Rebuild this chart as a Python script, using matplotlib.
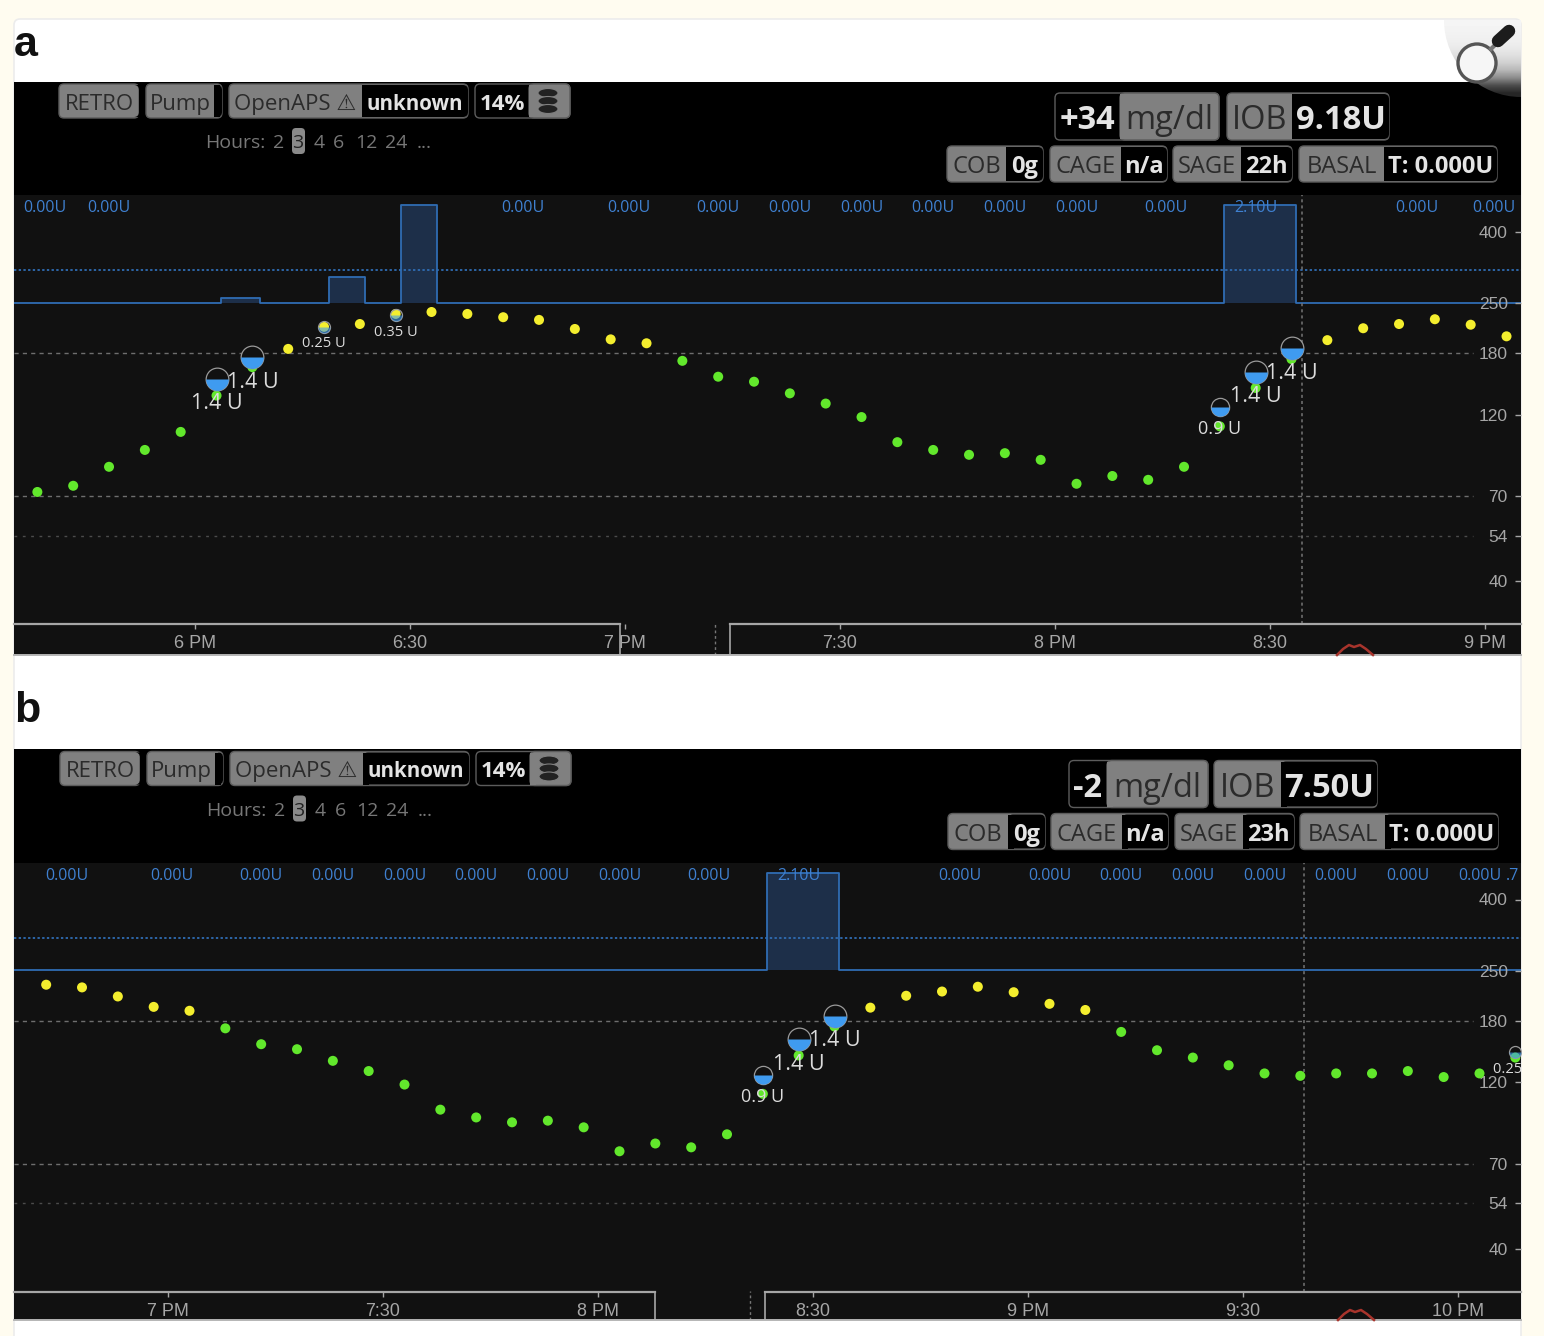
#!/usr/bin/env python3
"""Two Nightscout glucose screenshots (a, b) stacked on one white card."""

import numpy as np
import matplotlib
matplotlib.use("Agg")
import matplotlib.pyplot as plt
from matplotlib.path import Path
from matplotlib.patches import FancyBboxPatch, Rectangle, Ellipse, Wedge, Circle

plt.rcParams["font.family"] = ["Open Sans", "DejaVu Sans"]

W, H = 1544, 1336

# ── Data ─────────────────────────────────────────────────────────────────────

# minutes since midnight, one CGM reading every five minutes
glucose_time = [1058, 1063, 1068, 1073, 1078, 1083, 1088, 1093, 1098, 1103,
                1108, 1113, 1118, 1123, 1128, 1133, 1138, 1143, 1148, 1153,
                1158, 1163, 1168, 1173, 1178, 1183, 1188, 1193, 1198, 1203,
                1208, 1213, 1218, 1223, 1228, 1233, 1238, 1243, 1248, 1253,
                1258, 1263, 1268, 1273, 1278, 1283, 1288, 1293, 1298, 1303,
                1308, 1313, 1318, 1323, 1328]
glucose_mgdl = [72, 75, 85, 95, 107, 136, 164, 185, 214, 218,
                233, 236, 233, 228, 224, 211, 197, 192, 171, 154,
                149, 138, 129, 118, 100, 95, 92, 93, 89, 76,
                80, 78, 85, 111, 143, 173, 196, 212, 218, 225,
                217, 201, 193, 167, 148, 141, 134, 127, 125, 127,
                127, 129, 124, 127, 141]
HIGH_LIMIT = 180

basal_time = [1054, 1083.6, 1089, 1098.7, 1103.7, 1108.7, 1113.8,
              1223.6, 1233.6, 1330]
basal_rate = [0, 0.1, 0, 0.55, 0, 2.1, 0, 2.1, 0, 0]

basal_label_time_a = [1059, 1068, 1125.7, 1140.6, 1153, 1163, 1173, 1183, 1193, 1203,
                      1215.5, 1228, 1250.5, 1261.3]
basal_label_text_a = ["0.00U", "0.00U", "0.00U", "0.00U", "0.00U", "0.00U", "0.00U",
                      "0.00U", "0.00U", "0.00U", "0.00U", "2.10U", "0.00U", "0.00U"]
basal_label_time_b = [1125.9, 1140.6, 1153, 1163, 1173, 1183, 1193, 1203, 1215.5, 1228,
                      1250.5, 1263, 1273, 1283, 1293, 1303, 1313, 1323, 1327.6]
basal_label_text_b = ["0.00U", "0.00U", "0.00U", "0.00U", "0.00U", "0.00U", "0.00U",
                      "0.00U", "0.00U", "2.10U", "0.00U", "0.00U", "0.00U", "0.00U",
                      "0.00U", "0.00U", "0.00U", "0.00U", ".7"]
BASAL_DOTTED = 0.7

treat_time = [1083, 1088, 1098, 1108, 1223, 1228, 1233, 1328]
treat_mgdl = [152, 175, 214, 231, 126, 159, 186, 146]
treat_units = [1.4, 1.4, 0.25, 0.35, 0.9, 1.4, 1.4, 0.25]

y_ticks = [400, 250, 180, 120, 70, 54, 40]
y_grid_strong = [180, 70]
y_grid_faint = [54]

x_ticks_a = [1080, 1110, 1140, 1170, 1200, 1230, 1260]
x_labels_a = ["6 PM", "6:30", "7 PM", "7:30", "8 PM", "8:30", "9 PM"]
x_ticks_b = [1140, 1170, 1200, 1230, 1260, 1290, 1320]
x_labels_b = ["7 PM", "7:30", "8 PM", "8:30", "9 PM", "9:30", "10 PM"]

now_a, now_b = 1234.5, 1298.5
brush_a = (1139.3, 1152.6, 1154.7)
brush_b = (1208.0, 1221.2, 1223.3)
xlim_a = (1054.74, 1265.02)
xlim_b = (1118.51, 1328.79)

delta_a, iob_a, sage_a = "+34", "9.18U", "22h"
delta_b, iob_b, sage_b = "-2", "7.50U", "23h"
hours_values = ["2", "3", "4", "6", "12", "24", "..."]

# ── Colours ──────────────────────────────────────────────────────────────────

CREAM = "#fffcf0"
PLOT_BG = "#111111"
BADGE = "#808080"
BADGE_EDGE = "#5c5c5c"
BADGE_TEXT = "#2b2b2b"
VALUE_TEXT = "#e4e4e4"
AXIS_GREY = "#a6a6a6"
BLUE = "#2f6cb3"
BLUE_TEXT = "#3f80d0"
BASAL_FILL = "#1d2f49"
TREAT_BLUE = "#3f9bf0"
IN_RANGE = "#62e82c"
ABOVE_RANGE = "#f4ee2e"

# lower half of a unit circle, used as the bolus fill marker
_theta = np.radians(np.linspace(180, 360, 41))
HALF_DISC = Path(np.column_stack([np.cos(_theta), np.sin(_theta)]).tolist()
                 + [[-1.0, 0.0]], closed=True)

# ── Helpers ──────────────────────────────────────────────────────────────────


def box(ax, x0, x1, y0, y1, color, edge=BADGE_EDGE, radius=5, lw=1.0, z=2):
    ax.add_patch(FancyBboxPatch((x0 + radius, y0 + radius), x1 - x0 - 2 * radius,
                                y1 - y0 - 2 * radius,
                                boxstyle=f"round,pad={radius},rounding_size={radius}",
                                fc=color, ec=edge, lw=lw, zorder=z))


def badge(ax, x0, split, x1, y0, y1, label, value, size, value_first=False, value_size=None):
    """Grey pill with a black value box; split is where the two meet."""
    box(ax, x0, x1, y0, y1, BADGE if not value_first else "#000000")
    # Open Sans sits high with va=center, push it down a little
    ym = (y0 + y1) / 2 + 0.19 * size
    vs = value_size or size
    if value_first:
        box(ax, split, x1, y0, y1, BADGE, z=2.5)
        ax.add_patch(Rectangle((split, y0 + 1), 6, y1 - y0 - 2, fc=BADGE, ec="none", zorder=2.6))
        ax.text((x0 + split) / 2, ym, value, color=VALUE_TEXT, fontsize=vs, weight="bold",
                ha="center", va="center", zorder=3)
        if label:
            ax.text((split + x1) / 2, ym, label, color=BADGE_TEXT, fontsize=size,
                    ha="center", va="center", zorder=3)
    else:
        box(ax, split, x1, y0 + 1, y1 - 1, "#000000", edge="none", z=2.5)
        ax.add_patch(Rectangle((split, y0 + 1), 6, y1 - y0 - 2, fc="#000000", ec="none", zorder=2.6))
        ax.text((x0 + split) / 2, ym, label, color=BADGE_TEXT, fontsize=size,
                ha="center", va="center", zorder=3)
        if value:
            ax.text((split + x1) / 2, ym, value, color=VALUE_TEXT, fontsize=vs, weight="bold",
                    ha="center", va="center", zorder=3)


def draw_header(ax, top, dx, delta, iob, sage, right_x):
    """Status pills above the plot. top is the pixel row of the black band."""
    y0, y1 = top + 2, top + 36
    badge(ax, 59 + dx, 139 + dx, 139 + dx, y0, y1, "RETRO", "", 16)
    badge(ax, 146 + dx, 214 + dx, 222 + dx, y0, y1, "Pump", "", 16)
    badge(ax, 229 + dx, 362 + dx, 468 + dx, y0, y1, "OpenAPS ⚠", "unknown", 16, value_size=14.8)
    badge(ax, 475 + dx, 529 + dx, 570 + dx, y0, y1, "", "14%", 16, value_first=True)
    for k in (0, 8, 16):
        ax.add_patch(Ellipse((548 + dx, top + 11 + k), 20, 9, fc="#222222", ec=BADGE, lw=0.8, zorder=3))

    ym = top + 61
    ax.text(205 + dx, ym, "Hours:", color="#777777", fontsize=14, ha="left", va="center", zorder=3)
    ax.add_patch(FancyBboxPatch((295 + dx, top + 49), 7, 20, boxstyle="round,pad=3,rounding_size=4",
                                fc="#8a8a8a", ec="none", zorder=2))
    for h, hx in zip(hours_values, [279, 298, 319, 339, 366, 396, 424]):
        c = "#222222" if h == "3" else "#777777"
        ax.text(hx + dx, ym, h, color=c, fontsize=14, ha="center", va="center", zorder=3)

    # two rows on the right side
    r1 = right_x["row1"]
    y0, y1 = top + 11, top + 58
    badge(ax, r1[0], r1[1], r1[2], y0, y1, "mg/dl", delta, 23.5, value_first=True)
    badge(ax, r1[3], r1[4], r1[5], y0, y1, "IOB", iob, 23.5)
    r2 = right_x["row2"]
    y0, y1 = top + 64, top + 100
    badge(ax, r2[0], r2[1], r2[2], y0, y1, "COB", "0g", 17)
    badge(ax, r2[3], r2[4], r2[5], y0, y1, "CAGE", "n/a", 17)
    badge(ax, r2[6], r2[7], r2[8], y0, y1, "SAGE", sage, 17)
    badge(ax, r2[9], r2[10], r2[11], y0, y1, "BASAL", "T: 0.000U", 17)


def draw_panel(fig, name, top, bottom, axis_row, y400, xlim, xticks, xlabels, now, brush,
               label_times, label_texts):
    rect = [14 / W, 1 - bottom / H, 1507 / W, (bottom - top) / H]
    ax_basal = fig.add_axes(rect, label=f"basal {name}")
    ax = fig.add_axes(rect, label=f"glucose {name}")
    ax.patch.set_visible(False)
    ax_basal.set_facecolor(PLOT_BG)

    # glucose is on a log scale, 151.6 px per e-fold
    ax.set_yscale("log")
    ax.set_ylim(400 * np.exp(-(bottom - y400) / 151.6), 400 * np.exp((y400 - top) / 151.6))
    ax.set_xlim(*xlim)
    ax_basal.set_xlim(*xlim)

    # basal: zero sits on the 250 line, 46.2 px per unit
    zero_row = y400 + 70.5
    ax_basal.set_ylim((zero_row - bottom) / 46.2, (zero_row - top) / 46.2)
    ax_basal.fill_between(basal_time, basal_rate, 0, step="post", color=BASAL_FILL, lw=0)
    ax_basal.plot(basal_time, basal_rate, drawstyle="steps-post", color=BLUE, lw=1.3)
    ax_basal.axhline(BASAL_DOTTED, color=BLUE, lw=1.3, ls=(0, (1.3, 1.3)))
    for t, s in zip(label_times, label_texts):
        ax_basal.text(t, 2.04, s, color=BLUE_TEXT, fontsize=11.5, ha="center", va="center", clip_on=True)
    ax_basal.set_yticks([])
    ax_basal.set_xticks([])
    for s in ax_basal.spines.values():
        s.set_visible(False)

    # grid
    for v in y_grid_strong:
        ax.plot([0, 0.968], [v, v], transform=ax.get_yaxis_transform(), color="#6e6e6e", lw=1, ls=(0, (3, 3)))
    for v in y_grid_faint:
        ax.plot([0, 0.968], [v, v], transform=ax.get_yaxis_transform(), color="#4c4c4c", lw=1, ls=(0, (2, 4)))
    frac = (bottom - axis_row) / (bottom - top)
    ax.axvline(now, ymin=frac, color="#757575", lw=1.1, ls=(0, (2, 2)))

    # readings, the one half off the left edge is not in the screenshot
    shown = [i for i, t in enumerate(glucose_time) if t > xlim[0] + 1]
    times = [glucose_time[i] for i in shown]
    values = [glucose_mgdl[i] for i in shown]
    colors = [ABOVE_RANGE if v >= HIGH_LIMIT else IN_RANGE for v in values]
    ax.scatter(times, values, s=52, c=colors, lw=0, zorder=3)

    # boluses
    for t, v, u in zip(treat_time, treat_mgdl, treat_units):
        if not xlim[0] < t < xlim[1] + 1:
            continue
        big = u > 1
        r = max(6, 9.6 * np.sqrt(u))
        ms = 2 * r * 0.72
        ax.plot([t], [v], "o", ms=ms, mfc=PLOT_BG if u >= 0.5 else "none", mec="#9a9a9a", mew=0.9, zorder=4)
        ax.plot([t], [v], marker=HALF_DISC, ms=ms, mfc=TREAT_BLUE, mew=0, alpha=1 if u >= 0.5 else 0.6, zorder=4.5)
        fs = 15.5 if big else (13 if u > 0.5 else 10.5)
        off = 25 if big else (22 if u > 0.5 else 17)
        ax.annotate(f"{u:g} U", (t, v), xytext=(0, -off * 0.72), textcoords="offset points",
                    color="#dcdcdc", fontsize=fs, ha="center", va="center", zorder=5,
                    annotation_clip=False, clip_on=True)

    # y axis lives inside the plot on the right
    ax.yaxis.tick_right()
    ax.yaxis.set_major_locator(plt.FixedLocator(y_ticks))
    ax.yaxis.set_major_formatter(plt.FixedFormatter([str(v) for v in y_ticks]))
    ax.yaxis.set_minor_locator(plt.NullLocator())
    ax.tick_params(axis="y", which="major", direction="in", length=4, width=1, color=AXIS_GREY,
                   labelcolor=AXIS_GREY, pad=-9.5)
    for lab in ax.get_yticklabels():
        lab.set_ha("right")
        lab.set_family("Liberation Sans")
        lab.set_fontsize(12.5)

    # x axis with the brush gap in the middle
    for side in ("top", "left", "right"):
        ax.spines[side].set_visible(False)
    spine = ax.spines["bottom"]
    spine.set_position(("axes", frac))
    spine.set_color(AXIS_GREY)
    spine.set_linewidth(1.6)
    spine.set_bounds(xlim[0], brush[0])
    ax.set_xticks(xticks)
    ax.set_xticklabels(xlabels, family="Liberation Sans", fontsize=13)
    ax.tick_params(axis="x", length=3.5, width=1, color=AXIS_GREY, labelcolor=AXIS_GREY, pad=4.5)

    xt = ax.get_xaxis_transform()
    ax.plot([brush[2], xlim[1]], [frac, frac], transform=xt, color=AXIS_GREY, lw=1.6, clip_on=False)
    ax.plot([brush[0], brush[0]], [0, frac], transform=xt, color=AXIS_GREY, lw=1.2)
    ax.plot([brush[2], brush[2]], [0, frac], transform=xt, color=AXIS_GREY, lw=1.2)
    ax.plot([brush[1], brush[1]], [0, frac * 1.05], transform=xt, color="#777777", lw=1, ls=(0, (2, 2)))
    ax.plot([xlim[0], xlim[1]], [0, 0], transform=xt, color="#b5b5b5", lw=1.4, clip_on=False)
    return ax


def draw_magnifier(ax):
    corner = Wedge((1521, 20), 77, 90, 270, fc="none", ec="none", transform=ax.transData)
    ax.add_patch(corner)
    shade = np.array([[0.96], [0.95], [0.94], [0.92], [0.88], [0.82], [0.72], [0.55], [0.3], [0.15]])
    im = ax.imshow(shade, extent=[1444, 1521, 97, 20], cmap="gray", vmin=0, vmax=1,
                   aspect="auto", interpolation="bilinear", zorder=6)
    im.set_clip_path(corner)
    ax.add_patch(Circle((1477, 63), 19, fc="#f6f6f6", ec="#555555", lw=2.4, zorder=7))
    ax.plot([1491, 1498], [49, 42], color="#777777", lw=3, zorder=7)
    ax.plot([1498, 1509], [41, 31], color="#1c1c1c", lw=9, solid_capstyle="round", zorder=7)


# ── Main ─────────────────────────────────────────────────────────────────────


def main():
    fig = plt.figure(figsize=(W / 100, H / 100), dpi=100, facecolor=CREAM)

    bg = fig.add_axes([0, 0, 1, 1])
    bg.set_axis_off()
    bg.add_patch(FancyBboxPatch((20, 25), 1495, 1330, boxstyle="round,pad=6,rounding_size=6",
                                fc="white", ec="#ececec", lw=1.2, zorder=0))
    bg.add_patch(Rectangle((14, 82), 1507, 113, fc="#000000", ec="none", zorder=1))
    bg.add_patch(Rectangle((14, 749), 1507, 114, fc="#000000", ec="none", zorder=1))
    bg.text(14, 56, "a", family="Liberation Sans", weight="bold", fontsize=31, color="#111111", va="baseline")
    bg.text(14, 722, "b", family="Liberation Sans", weight="bold", fontsize=31, color="#111111", va="baseline")

    draw_header(bg, 82, 0, delta_a, iob_a, sage_a, {
        "row1": [1055, 1120, 1219, 1227, 1292, 1389],
        "row2": [947, 1006, 1043, 1050, 1121, 1167, 1173, 1241, 1292, 1299, 1384, 1497],
    })
    draw_header(bg, 749.5, 1, delta_b, iob_b, sage_b, {
        "row1": [1069, 1107, 1208, 1214, 1281, 1377],
        "row2": [948, 1008, 1045, 1051, 1122, 1168, 1175, 1243, 1294, 1300, 1385, 1498],
    })
    draw_magnifier(bg)
    bg.set_xlim(0, W)
    bg.set_ylim(H, 0)

    draw_panel(fig, "a", 195, 655, 624, 232, xlim_a, x_ticks_a, x_labels_a, now_a, brush_a,
               basal_label_time_a, basal_label_text_a)
    draw_panel(fig, "b", 862.5, 1320, 1292, 899.5, xlim_b, x_ticks_b, x_labels_b, now_b, brush_b,
               basal_label_time_b, basal_label_text_b)

    # the red arc poking in at the bottom edge of each screenshot
    fg = fig.add_axes([0, 0, 1, 1])
    fg.set_axis_off()
    fg.patch.set_visible(False)
    for base, x0 in ((655, 1337), (1320, 1338)):
        fg.plot(np.array([0, 6, 12, 17, 23, 29, 36]) + x0,
                base - np.array([0, 6, 10, 8, 10, 6, 0]), color="#a8342c", lw=1.8)
    fg.set_xlim(0, W)
    fg.set_ylim(H, 0)

    fig.savefig("out.png", dpi=100, facecolor=CREAM)
    plt.close(fig)


if __name__ == "__main__":
    main()
